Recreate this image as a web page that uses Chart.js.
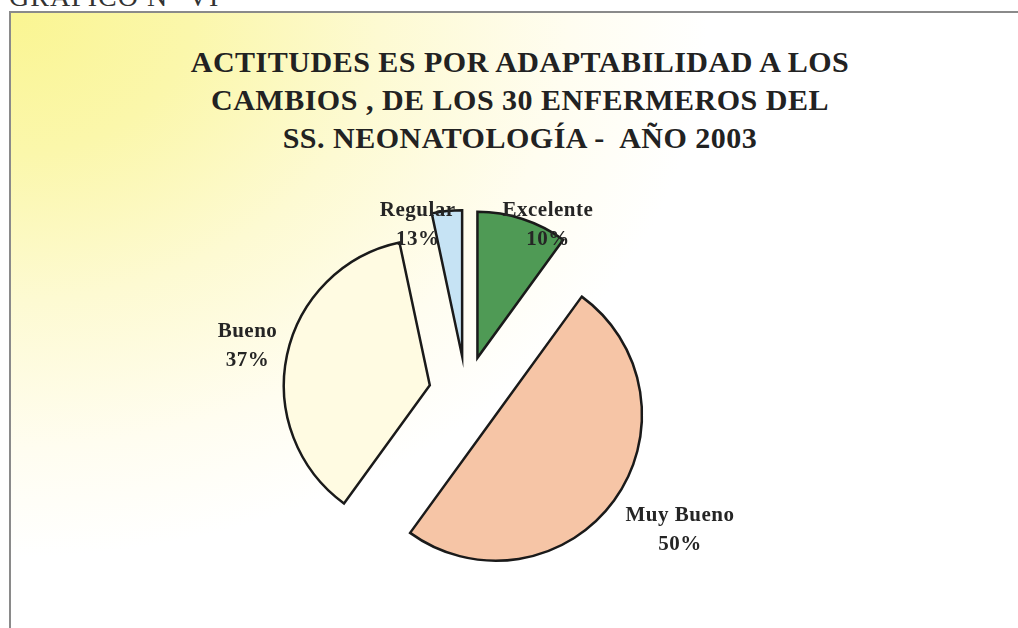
<!DOCTYPE html>
<html>
<head>
<meta charset="utf-8">
<script src="https://cdn.jsdelivr.net/npm/chart.js@4.4.1/dist/chart.umd.min.js"></script>
<style>
  html, body { margin: 0; padding: 0; width: 1018px; height: 628px; overflow: hidden; background: #ffffff; }
  #header { position: absolute; left: 9px; top: -17px; font: 28px "Liberation Serif", serif; line-height: 28px; color: #333; white-space: nowrap; letter-spacing: 1px; }
  #frame { position: absolute; left: 9px; top: 11px; width: 1100px; height: 700px; border: 2px solid #8a8a8a;
    background: radial-gradient(ellipse 820px 640px at 0% 0%, #faf592 0%, #fbf7ab 22%, #fdfad2 45%, #fffdf0 68%, #ffffff 85%); }
  #title { position: absolute; left: 0; top: 43px; width: 1040px; text-align: center; font: bold 30px "Liberation Serif", serif;
    line-height: 38px; letter-spacing: 0.5px; color: #222; }
  #wrap { position: absolute; left: 0; top: 0; width: 1018px; height: 628px; }
</style>
</head>
<body>
<div id="header">GRAFICO N° VI</div>
<div id="frame"></div>
<div id="title">ACTITUDES ES POR ADAPTABILIDAD A LOS<br>CAMBIOS , DE LOS 30 ENFERMEROS DEL<br>SS. NEONATOLOGÍA -&nbsp; AÑO 2003</div>
<div id="wrap"><canvas id="c" width="1018" height="628"></canvas></div>
<script>
// Data (counts out of 30 nurses) and printed labels
const categories = ['Excelente', 'Muy Bueno', 'Bueno', 'Regular'];
const counts = [3, 15, 11, 1];
const percentLabels = ['10%', '50%', '37%', '13%'];
const sliceColors = ['#4f9a55', '#f6c5a6', '#fffbe2', '#c6e3f4'];

// Style: how far every slice is pulled out from the centre (px)
const explodeDistance = 37;

// Label placement relative to each slice (angle nudge in degrees, distance as fraction of radius)
const labelPlacement = [
  { turn: 8, dist: 1.28 },
  { turn: -3.4, dist: 1.74 },
  { turn: 0, dist: 1.53 },
  { turn: -10, dist: 1.2 }
];

// Draw each library arc shifted outward along its mid-angle (same radius for every slice)
const explodePlugin = {
  id: 'explode',
  beforeDatasetsDraw(chart) {
    const ctx = chart.ctx;
    const meta = chart.getDatasetMeta(0);
    meta.data.forEach((arc) => {
      const p = arc.getProps(['startAngle', 'endAngle'], true);
      const mid = (p.startAngle + p.endAngle) / 2;
      ctx.save();
      ctx.translate(Math.cos(mid) * explodeDistance, Math.sin(mid) * explodeDistance);
      arc.draw(ctx, chart.chartArea);
      ctx.restore();
    });
    return false;
  }
};

const labelPlugin = {
  id: 'sliceLabels',
  afterDraw(chart) {
    const ctx = chart.ctx;
    const meta = chart.getDatasetMeta(0);
    meta.data.forEach((arc, i) => {
      const p = arc.getProps(['x', 'y', 'startAngle', 'endAngle', 'outerRadius'], true);
      const mid = (p.startAngle + p.endAngle) / 2 + labelPlacement[i].turn * Math.PI / 180;
      const r = p.outerRadius * labelPlacement[i].dist;
      const cx = p.x + Math.cos(mid) * r;
      const cy = p.y + Math.sin(mid) * r;
      ctx.save();
      ctx.font = 'bold 21px "Liberation Serif", serif';
      ctx.fillStyle = '#252525';
      ctx.textAlign = 'center';
      ctx.textBaseline = 'middle';
      try { ctx.letterSpacing = '0.5px'; } catch (e) {}
      ctx.fillText(categories[i], cx, cy - 14.5);
      ctx.fillText(percentLabels[i], cx, cy + 14.5);
      ctx.restore();
    });
  }
};

new Chart(document.getElementById('c'), {
  type: 'pie',
  data: {
    labels: categories,
    datasets: [{
      data: counts,
      backgroundColor: sliceColors,
      borderColor: '#1a1a1a',
      borderWidth: 2.5,
      borderJoinStyle: 'miter',
      offset: 0,
      radius: 146
    }]
  },
  options: {
    responsive: false,
    animation: false,
    layout: { padding: { left: 0, right: 86, top: 158, bottom: 0 } },
    plugins: {
      legend: { display: false },
      tooltip: { enabled: false },
      title: { display: false }
    }
  },
  plugins: [explodePlugin, labelPlugin]
});
</script>
</body>
</html>
